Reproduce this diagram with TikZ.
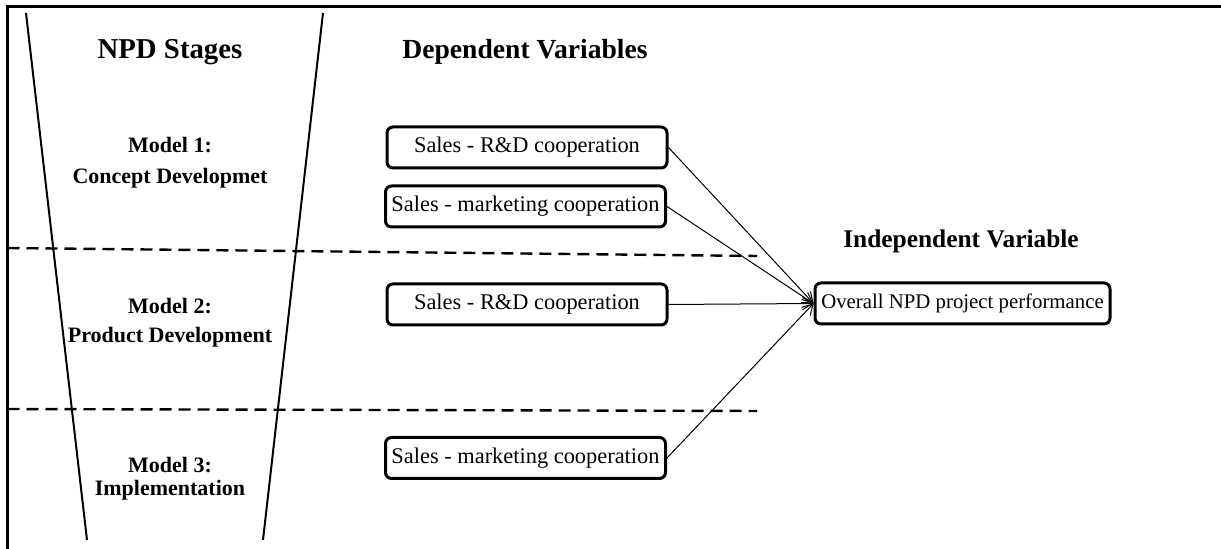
\documentclass[tikz,border=0pt]{standalone}
\usepackage{fontspec}
\setmainfont{Liberation Serif}
\usetikzlibrary{arrows.meta,positioning}

\tikzset{
    varbox/.style={draw, line width=1.5pt, rounded corners=3pt, minimum width=140pt,
        minimum height=20.5pt, inner sep=2pt, font=\fontsize{11.2}{13}\selectfont},
    heading/.style={font=\bfseries\fontsize{13.8}{16}\selectfont},
    stage/.style={font=\bfseries\fontsize{11}{13}\selectfont},
    link/.style={-{Straight Barb[length=5pt,width=6pt]}, line width=0.5pt},
    divider/.style={line width=1.2pt, dash pattern=on 6pt off 3.5pt},
    funnel/.style={line width=1pt}
}

\begin{document}
\begin{tikzpicture}[x=0.5pt, y=-0.5pt]
                        \useasboundingbox (0,0) rectangle (1221,549);
                        \draw[line width=1.5pt] (7.5,549) -- (7.5,6.5) -- (1221,6.5);

                        % funnel and stage borders
                        \draw[funnel] (26,13) -- (87,540);
                        \draw[funnel] (323,13) -- (263,540);
                        \draw[divider] (7.5,248) -- (757,256);
                        \draw[divider] (7.5,409) -- (757,411);

                        \node[heading, font=\bfseries\fontsize{14.4}{16}\selectfont] (stages) at (170,52) {NPD Stages};
                        \node[heading] (dep) at (525,52) {Dependent Variables};
                        \node[heading, font=\bfseries\fontsize{12.7}{15}\selectfont] (indep) at (961,241) {Independent Variable};

                        \node[stage] (m1) at (170,145) {Model 1:};
                        \node[stage] (m1name) at (170,178) {Concept Developmet};
                        \node[stage] (m2) at (170,306) {Model 2:};
                        \node[stage] (m2name) at (170,337) {Product Development};
                        \node[stage] (m3) at (170,465) {Model 3:};
                        \node[stage] (m3name) at (170,490) {Implementation};

                        \node[varbox] (rd1) at (527,147.5) {Sales - R\&D cooperation};
                        \node[varbox] (mk1) at (525.5,206.5) {Sales - marketing cooperation};
                        \node[varbox] (rd2) at (527,304.5) {Sales - R\&D cooperation};
                        \node[varbox] (mk3) at (525.5,458) {Sales - marketing cooperation};
                        \node[varbox, minimum width=147.5pt, inner xsep=0pt,
                            font=\fontsize{10.4}{13}\selectfont] (perf) at (962.5,303.5) {Overall NPD project performance};

                        \draw
                        (rd1.east) edge[link] (perf.west)
                        (mk1.east) edge[link] (perf.west)
                        (rd2.east) edge[link] (perf.west)
                        (mk3.east) edge[link] (perf.west);
                    \end{tikzpicture}
\end{document}
